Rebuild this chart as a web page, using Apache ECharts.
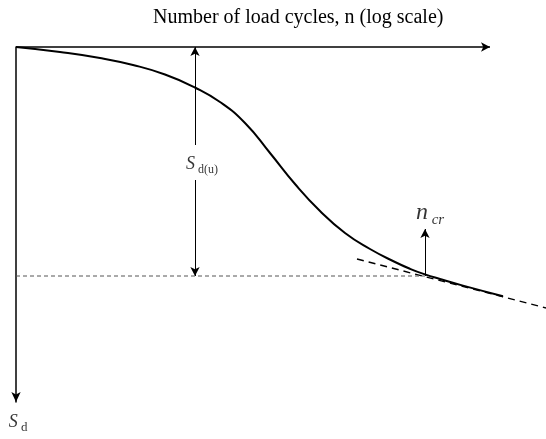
<!DOCTYPE html>
<html>
<head>
<meta charset="utf-8">
<script src="https://cdn.jsdelivr.net/npm/echarts@6/dist/echarts.min.js"></script>
<style>html,body{margin:0;padding:0;background:#fff}#c{width:546px;height:439px}</style>
</head>
<body>
<div id="c"></div>
<script>
// x: position along log(n) axis, y: accumulated deformation (downwards)
const curveX = [0, 44, 84, 117, 149, 179, 204, 229, 254, 279, 304, 329, 354, 379, 394, 409, 424, 447, 487];
const curveY = [0, 5, 11, 18, 27.5, 40.5, 55, 76, 106, 137, 164, 186, 202, 215, 221.8, 227.4, 232, 238.6, 249.2];
const tangentX = [341, 530];
const tangentY = [212, 261];
const levelX = [0, 409];
const levelY = [229, 229];
const nCrX = 409;
const nCrFrom = 229, nCrTo = 182;
const sduX = 179;
const sduTop = 0, sduBottom = 229, sduGapTop = 98, sduGapBottom = 133;
const xAxisEnd = 474;
const axisTitle = 'Number of load cycles, n (log scale)';
const sduLabelPos = [186, 116];
const nCrLabelPos = [414, 167];
const sdLabelPos = [2, 374];

const chart = echarts.init(document.getElementById('c'), null, {renderer: 'canvas'});
const serif = 'Liberation Serif';
const arrowLine = (x1, y1, x2, y2) => [{coord: [x1, y1]}, {coord: [x2, y2]}];
const labelPoint = (pos, fmt, rich) => ({
  type: 'scatter', symbolSize: 0, clip: false, silent: true,
  data: [pos],
  label: {show: true, position: 'inside', formatter: fmt, rich: rich}
});

chart.setOption({
  animation: false,
  title: {
    text: axisTitle, left: 148, top: 3,
    textStyle: {fontFamily: serif, fontSize: 20, fontWeight: 'normal', color: '#000'}
  },
  grid: {left: 16, top: 47, right: 0, bottom: 37},
  xAxis: {
    type: 'value', position: 'top', min: 0, max: 530,
    axisLine: {show: false},
    axisTick: {show: false}, axisLabel: {show: false}, splitLine: {show: false}
  },
  yAxis: {
    type: 'value', inverse: true, min: 0, max: 355,
    axisLine: {show: true, onZero: false, symbol: ['arrow', 'none'], symbolSize: [7, 10], lineStyle: {color: '#000', width: 1.5}},
    axisTick: {show: false}, axisLabel: {show: false}, splitLine: {show: false}
  },
  series: [
    {
      type: 'line', smooth: 0.5, symbol: 'none', silent: true, clip: false,
      data: curveX.map((x, i) => [x, curveY[i]]),
      lineStyle: {color: '#000', width: 2}
    },
    {
      type: 'line', symbol: 'none', clip: false, silent: true,
      data: tangentX.map((x, i) => [x, tangentY[i]]),
      lineStyle: {color: '#000', width: 1.4, type: [7, 5]}
    },
    {
      type: 'line', symbol: 'none', silent: true,
      data: levelX.map((x, i) => [x, levelY[i]]),
      lineStyle: {color: '#555', width: 1, type: [4, 3]},
      markLine: {
        silent: true, symbol: ['none', 'arrow'], symbolSize: [7, 9],
        label: {show: false},
        lineStyle: {color: '#000', width: 1, type: 'solid'},
        data: [
          arrowLine(nCrX, nCrFrom, nCrX, nCrTo),
          arrowLine(sduX, sduGapTop, sduX, sduTop),
          arrowLine(sduX, sduGapBottom, sduX, sduBottom),
          [{coord: [0, 0], lineStyle: {width: 1.5}, symbolSize: [7, 10]}, {coord: [xAxisEnd, 0]}]
        ]
      }
    },
    labelPoint(sduLabelPos, '{s|S}{d| d(u)}', {
      s: {fontFamily: serif, fontStyle: 'italic', fontSize: 18, color: '#000', verticalAlign: 'bottom', lineHeight: 20},
      d: {fontFamily: serif, fontSize: 12, color: '#000', verticalAlign: 'bottom', lineHeight: 14, padding: [0, 0, -3, 0]}
    }),
    labelPoint(nCrLabelPos, '{n|n}{c| cr}', {
      n: {fontFamily: serif, fontStyle: 'italic', fontSize: 24, color: '#000', verticalAlign: 'bottom', lineHeight: 22},
      c: {fontFamily: serif, fontStyle: 'italic', fontSize: 15, color: '#000', verticalAlign: 'bottom', lineHeight: 16, padding: [0, 0, -3, 0]}
    }),
    labelPoint(sdLabelPos, '{s|S}{d| d}', {
      s: {fontFamily: serif, fontStyle: 'italic', fontSize: 18, color: '#000', verticalAlign: 'bottom', lineHeight: 20},
      d: {fontFamily: serif, fontSize: 13, color: '#000', verticalAlign: 'bottom', lineHeight: 14, padding: [0, 0, -3, 0]}
    })
  ]
});
</script>
</body>
</html>
